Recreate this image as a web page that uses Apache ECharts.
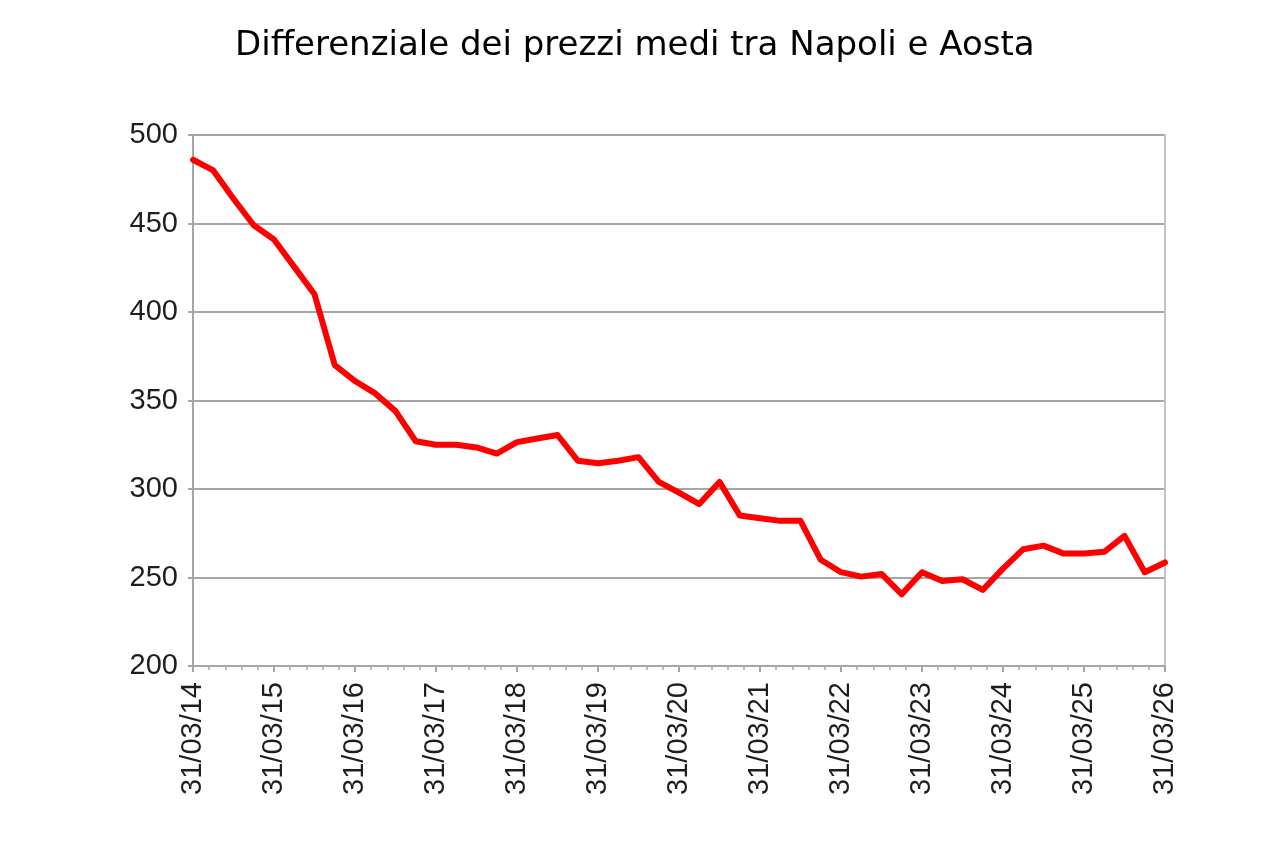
<!DOCTYPE html>
<html>
<head>
<meta charset="utf-8">
<script src="https://cdn.jsdelivr.net/npm/echarts@6/dist/echarts.min.js"></script>
<style>
  html, body { margin: 0; padding: 0; background: #fff; }
  #chart { width: 1280px; height: 843px; }
</style>
</head>
<body>
<div id="chart"></div>
<script>
// quarterly dates, 31/03/14 .. 31/03/26
var dates = [
    '31/03/14', '30/06/14', '30/09/14', '31/12/14',
    '31/03/15', '30/06/15', '30/09/15', '31/12/15',
    '31/03/16', '30/06/16', '30/09/16', '31/12/16',
    '31/03/17', '30/06/17', '30/09/17', '31/12/17',
    '31/03/18', '30/06/18', '30/09/18', '31/12/18',
    '31/03/19', '30/06/19', '30/09/19', '31/12/19',
    '31/03/20', '30/06/20', '30/09/20', '31/12/20',
    '31/03/21', '30/06/21', '30/09/21', '31/12/21',
    '31/03/22', '30/06/22', '30/09/22', '31/12/22',
    '31/03/23', '30/06/23', '30/09/23', '31/12/23',
    '31/03/24', '30/06/24', '30/09/24', '31/12/24',
    '31/03/25', '30/06/25', '30/09/25', '31/12/25',
    '31/03/26'
];

// differenziale Napoli - Aosta
var differenziale = [
    486, 480, 464, 449, 441, 425.5, 410, 370, 361, 354,
    344, 327, 325, 325, 323.5, 320, 326.5, 328.5, 330.5, 316,
    314.5, 316, 318, 304, 298, 291.5, 304, 285, 283.5, 282,
    282, 260, 253, 250.5, 252, 240.5, 253, 248, 249, 243,
    255, 266, 268, 263.5, 263.5, 264.5, 273.5, 253, 258.5
];

var titolo = 'Differenziale dei prezzi medi tra Napoli e Aosta';

var myChart = echarts.init(document.getElementById('chart'));
var grigio = '#a6a6a6';

var option = {
    animation: false,
    title: {
        text: titolo,
        left: 230,
        top: 24,
        textStyle: {
            fontFamily: 'DejaVu Sans',
            fontWeight: 'normal',
            fontSize: 34,
            color: '#000'
        }
    },
    grid: {
        left: 193,
        right: 115,
        top: 135,
        bottom: 177
    },
    xAxis: [{
        type: 'category',
        data: dates,
        boundaryGap: false,
        axisLine: { lineStyle: { color: grigio, width: 2 } },
        axisTick: { interval: 3, length: 6, lineStyle: { color: grigio, width: 2 } },
        axisLabel: {
            interval: 3,
            rotate: 90,
            margin: 16,
            fontFamily: 'Liberation Sans',
            fontSize: 29,
            color: '#1e1e1e'
        },
        splitLine: { show: false }
    }, {
        // only the small ticks along the bottom
        type: 'value',
        position: 'bottom',
        min: 0,
        max: 60,
        interval: 1,
        axisLine: { show: false },
        axisTick: { show: true, length: 4, lineStyle: { color: grigio, width: 1.5 } },
        axisLabel: { show: false },
        splitLine: { show: false }
    }],
    yAxis: [{
        type: 'value',
        min: 200,
        max: 500,
        interval: 50,
        offset: 6,
        axisLine: { show: true, lineStyle: { color: grigio, width: 2 } },
        axisTick: { show: true, length: 5, lineStyle: { color: grigio, width: 2 } },
        axisLabel: {
            margin: 9,
            fontFamily: 'Liberation Sans',
            fontSize: 29,
            color: '#1e1e1e'
        },
        splitLine: { lineStyle: { color: grigio, width: 2 } }
    }, {
        type: 'value',
        position: 'right',
        min: 200,
        max: 500,
        interval: 50,
        axisLine: { show: true, lineStyle: { color: '#c4c4c4', width: 2 } },
        axisTick: { show: false },
        axisLabel: { show: false },
        splitLine: { show: false }
    }],
    series: [{
        name: 'Differenziale',
        type: 'line',
        xAxisIndex: 0,
        yAxisIndex: 0,
        data: differenziale,
        showSymbol: false,
        lineStyle: { color: '#ff0000', width: 6, join: 'round', cap: 'round' }
    }]
};

myChart.setOption(option);
</script>
</body>
</html>
